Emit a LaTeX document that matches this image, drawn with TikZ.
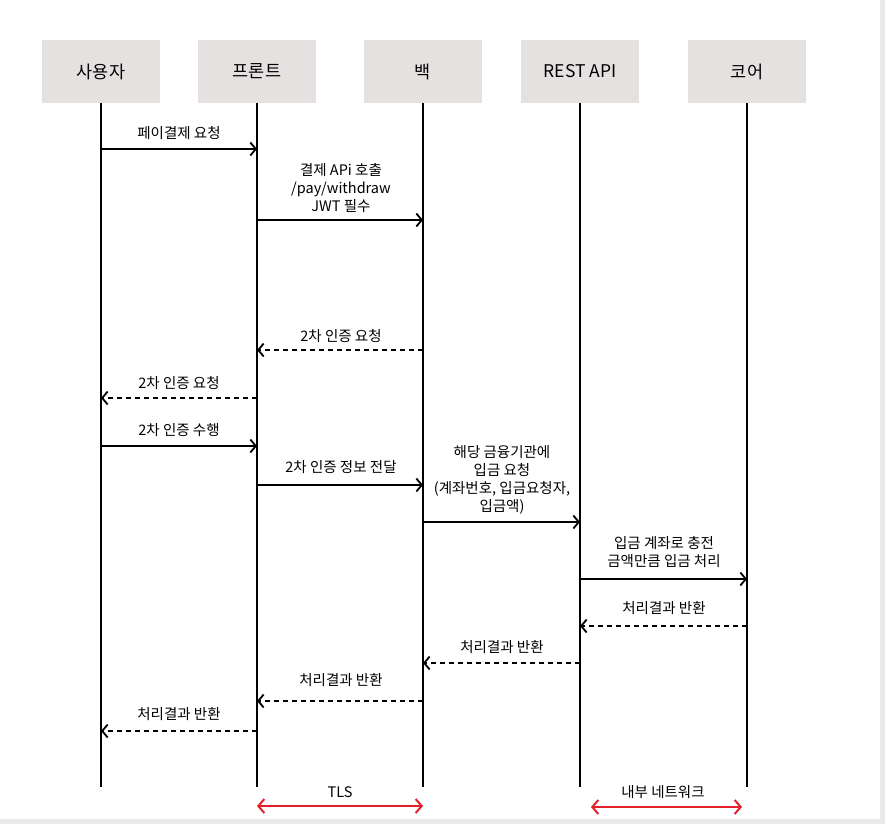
\documentclass[tikz,border=0pt]{standalone}
\usepackage{fontspec}
\setmainfont{Noto Sans CJK KR}
\usetikzlibrary{arrows.meta}
\definecolor{boxgray}{HTML}{E6E1E1}
\definecolor{spanred}{HTML}{E3212B}
\definecolor{edgegray}{HTML}{E9E9E9}

\begin{document}
\begin{tikzpicture}[x=1pt,y=-1pt,
  actor/.style={fill=boxgray, minimum width=118pt, minimum height=63pt, inner sep=0pt,
                font=\fontsize{17.5}{20}\selectfont},
  life/.style={line width=2pt},
  msg/.style={line width=1.8pt, -{Straight Barb[length=5.5pt,width=13pt,line width=1.8pt]}},
  reply/.style={msg, dash pattern=on 5pt off 4pt},
  lbl/.style={font=\fontsize{14.5}{18}\selectfont, align=center, inner sep=0pt},
  spanarrow/.style={line width=2pt, spanred,
    {Straight Barb[length=6pt,width=14pt,line width=2pt]}-{Straight Barb[length=6pt,width=14pt,line width=2pt]}}]

\useasboundingbox (0,0) rectangle (885,824);
\fill[edgegray] (880,0) rectangle (885,824);
\fill[edgegray] (0,819) rectangle (885,824);

% participants
\node[actor] (u) at (101,71.5) {사용자};
\node[actor] (f) at (257,71.5) {프론트};
\node[actor] (b) at (423,71.5) {백};
\node[actor] (r) at (580,71.5) {REST API};
\node[actor] (c) at (747,71.5) {코어};

% lifelines
\foreach \p in {u,f,b,r,c}
  \draw[life] (\p.south) -- (\p.south |- 0,787);

% messages
\draw[msg] (u.south |- 0,149) -- (f.south |- 0,149);
\node[lbl] (m1) at (179,133) {페이결제 요청};

\draw[msg] (f.south |- 0,220) -- (b.south |- 0,220);
\node[lbl] (m2) at (341,188) {결제 APi 호출\\/pay/withdraw\\JWT 필수};

\draw[reply] (b.south |- 0,350) -- (f.south |- 0,350);
\node[lbl] (m3) at (341,336) {2차 인증 요청};

\draw[reply] (f.south |- 0,398) -- (u.south |- 0,398);
\node[lbl] (m4) at (179,383) {2차 인증 요청};

\draw[msg] (u.south |- 0,446) -- (f.south |- 0,446);
\node[lbl] (m5) at (179,430) {2차 인증 수행};

\draw[msg] (f.south |- 0,485) -- (b.south |- 0,485);
\node[lbl] (m6) at (341,467) {2차 인증 정보 전달};

\draw[msg] (b.south |- 0,522) -- (r.south |- 0,522);
\node[lbl] (m7) at (502,479.5) {해당 금융기관에\\입금 요청\\(계좌번호, 입금요청자,\\입금액)};

\draw[msg] (r.south |- 0,579) -- (c.south |- 0,579);
\node[lbl] (m8) at (664,552) {입금 계좌로 충전\\금액만큼 입금 처리};

\draw[reply] (c.south |- 0,626) -- (r.south |- 0,626);
\node[lbl] (m9) at (664,608) {처리결과 반환};

\draw[reply] (r.south |- 0,663) -- (b.south |- 0,663);
\node[lbl] (m10) at (502,647) {처리결과 반환};

\draw[reply] (b.south |- 0,701) -- (f.south |- 0,701);
\node[lbl] (m11) at (341,680) {처리결과 반환};

\draw[reply] (f.south |- 0,731) -- (u.south |- 0,731);
\node[lbl] (m12) at (179,714) {처리결과 반환};

% network zones
\coordinate (tlsL) at (f.south |- 0,806);
\coordinate (tlsR) at (b.south |- 0,806);
\draw[spanarrow] (tlsL) -- (tlsR);
\node[lbl] (tls) at (340,792) {TLS};

\coordinate (netL) at (591,807);
\coordinate (netR) at (742,807);
\draw[spanarrow] (netL) -- (netR);
\node[lbl] (net) at (663,792) {내부 네트워크};
\end{tikzpicture}
\end{document}
